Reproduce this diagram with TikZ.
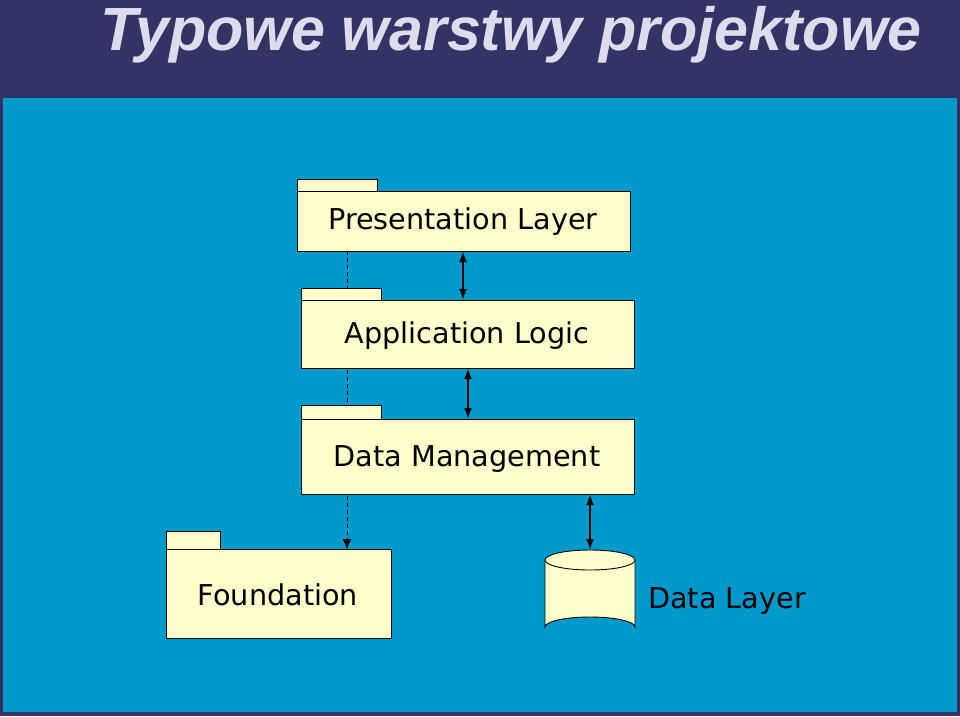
\documentclass[tikz,border=0pt]{standalone}
\usepackage{fontspec}
\setmainfont{DejaVu Sans}
\newfontfamily\titlefont{Liberation Sans}
\usetikzlibrary{shapes.geometric,arrows.meta}
\definecolor{navy}{HTML}{333366}
\definecolor{sky}{HTML}{0099CC}
\definecolor{pale}{HTML}{FFFFCC}
\definecolor{titlec}{HTML}{DCDCEC}
\tikzset{
 pkg/.style={draw=black, fill=pale, line width=0.9pt},
 lbl/.style={font=\fontsize{28.7}{32}\selectfont, text=black},
 dbl/.style={{Latex[length=11pt,width=8pt]}-{Latex[length=11pt,width=8pt]}, line width=2.2pt},
 dep/.style={line width=0.7pt, -{Latex[length=10pt,width=9pt]}, dash pattern=on 4pt off 3pt}
}
\begin{document}
\begin{tikzpicture}[x=1pt,y=-1pt]
\useasboundingbox (0,0) rectangle (960,716);
\fill[navy] (0,0) rectangle (960,716);
\fill[sky] (3,98) rectangle (957,712);
\node[anchor=base west, inner sep=0, text=titlec, font=\titlefont\bfseries\itshape\fontsize{61}{66}\selectfont] (title) at (100,50) {Typowe warstwy projektowe};
\coordinate (presD) at (347,251);
\coordinate (fdT) at (347,549);
\draw[dep] (presD) -- (fdT);
% Presentation
\draw[pkg] (297,179) rectangle (377,191);
\draw[pkg] (297,191) rectangle (630,251);
\node[lbl] (pres) at (463,222) {Presentation Layer};
\coordinate (presB) at (463,251);
% Application
\draw[pkg] (301,288) rectangle (381,300);
\draw[pkg] (301,300) rectangle (634,368);
\node[lbl] (app) at (467,336) {Application Logic};
\coordinate (appT) at (463,300);
\coordinate (appB) at (468,368);
% Data management
\draw[pkg] (301,405) rectangle (381,419);
\draw[pkg] (301,419) rectangle (634,494);
\node[lbl] (dm) at (467,459) {Data Management};
\coordinate (dmT) at (468,419);
\coordinate (dmB) at (590,494);
% Foundation
\draw[pkg] (166,531) rectangle (220,549);
\draw[pkg] (166,549) rectangle (391,638);
\node[lbl] (fd) at (278,595) {Foundation};
% cylinder
\draw[pkg] (545,560) -- (545,627) arc[start angle=180,end angle=360,x radius=45,y radius=10] -- (635,560);
\draw[pkg] (590,560) ellipse[x radius=45,y radius=10];
\coordinate (cylT) at (590,550);
\node[lbl, anchor=west, inner sep=0] (dl) at (648,601) {Data Layer};
% connectors
\draw[dbl] (presB) -- (appT);
\draw[dbl] (appB) -- (dmT);
\draw[dbl] (dmB) -- (cylT);
\end{tikzpicture}
\end{document}
